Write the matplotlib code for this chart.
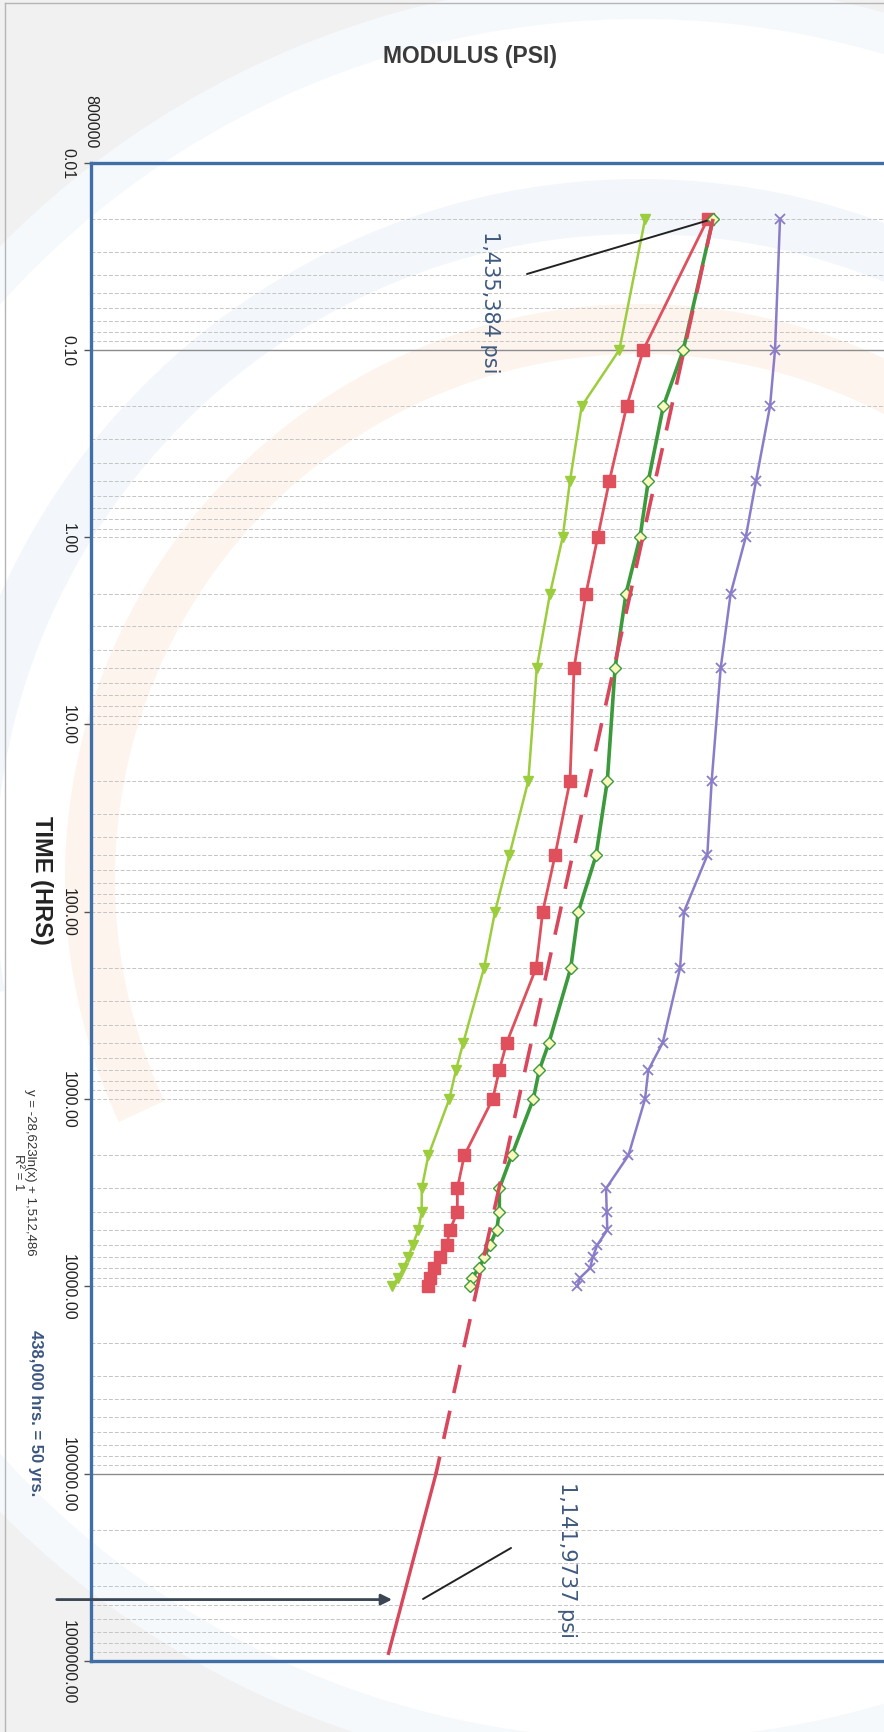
import matplotlib

matplotlib.use("Agg")
import matplotlib.pyplot as plt
from matplotlib.lines import Line2D
from matplotlib.patches import Wedge
from matplotlib.ticker import FixedLocator, NullLocator
from matplotlib.transforms import IdentityTransform

# time points (hrs) shared by all four test series
TIME_HRS = [0.02, 0.1, 0.2, 0.5, 1, 2, 5, 20, 50, 100, 200, 500, 700,
            1000, 2000, 3000, 4000, 5000, 6000, 7000, 8000, 9000, 10000]

# modulus readings (psi)
MOD_LIME = [1366000, 1339700, 1301200, 1289300, 1281800, 1268900, 1255300,
            1246700, 1227300, 1212700, 1201400, 1180300, 1172800, 1166000,
            1144600, 1137800, 1137800, 1134300, 1128600, 1124100, 1119000,
            1113900, 1107200]
MOD_RED = [1430000, 1364200, 1347200, 1329500, 1317600, 1305600, 1293400,
           1289300, 1274000, 1261400, 1254600, 1224600, 1217100, 1210300,
           1181300, 1174200, 1174200, 1166700, 1163300, 1156500, 1150400,
           1146300, 1144300]
MOD_GREEN = [1435384, 1405000, 1384600, 1369300, 1360800, 1346500, 1335300,
             1327400, 1315900, 1297800, 1290000, 1267800, 1257900, 1251800,
             1229700, 1217100, 1217100, 1214400, 1207600, 1201400, 1196600,
             1188900, 1187100]
MOD_PURPLE = [1503800, 1498700, 1493600, 1479300, 1468800, 1453400, 1443200,
              1434000, 1429500, 1405700, 1401700, 1384000, 1369300, 1365900,
              1348900, 1326100, 1326800, 1327400, 1317200, 1312500, 1309700,
              1299500, 1296800]

# log trend (dashed) and its extrapolation (solid)
TREND_TIME = [0.02, 100000]
TREND_MOD = [1435400, 1152400]
EXT_TIME = [100000, 910000]
EXT_MOD = [1152400, 1103900]

TARGET_HRS = 470000
TARGET_MOD = 1107500
ARROW_START_MOD = 765000

TIME_TICKS = [0.01, 0.1, 1, 10, 100, 1000, 10000, 100000, 1000000]
DARK_GRID = [0.1, 100000]
MOD_TICKS = [800000]

W, H = 884, 1733
fig = plt.figure(figsize=(W / 100, H / 100), dpi=100)
fig.patch.set_facecolor("#f1f1f1")


def fx(px):
    return px / W


def fy(py):
    return 1 - py / H


# faint logo watermark of the scanned page (pixel coords, y from bottom)
cx, cy = 640, H - 880
for r_out, width, col, th1, th2 in [(900, 900, "#f6f9fc", 0, 360),
                                    (860, 860, "#ffffff", 0, 360),
                                    (700, 55, "#f3f7fb", -10, 190),
                                    (575, 50, "#fdf4ee", -25, 205)]:
    fig.patches.append(Wedge((cx, cy), r_out, th1, th2, width=width,
                             transform=IdentityTransform(), facecolor=col,
                             edgecolor="none", zorder=-5))

# scanned page edges
fig.add_artist(Line2D([fx(5), fx(5)], [0, fy(4)], transform=fig.transFigure,
                      color="#b5b5b5", lw=1.0))
fig.add_artist(Line2D([fx(5), 1], [fy(4), fy(4)], transform=fig.transFigure,
                      color="#b5b5b5", lw=1.0))

ax_left, ax_right = 91, 1070
ax_top, ax_bot = 163.5, 1662
ax = fig.add_axes([fx(ax_left), fy(ax_bot), fx(ax_right - ax_left), (ax_bot - ax_top) / H])
ax.set_facecolor("none")

ax.set_yscale("log")
ax.set_ylim(1000000, 0.01)
ax.set_xlim(800000, 1800000)

grid_kw = dict(color="#c4c4c4", lw=0.7, ls=(0, (4, 2)), zorder=1)
for dec in TIME_TICKS[:-1]:
    for m in range(1, 10):
        t = dec * m
        if t in DARK_GRID:
            ax.axhline(t, color="#8c8c8c", lw=1.0, zorder=1)
        elif t > 0.01:
            ax.axhline(t, **grid_kw)

ax.plot(MOD_LIME, TIME_HRS, color="#9ccd3c", lw=1.8, marker="v", ms=7, zorder=3)
ax.plot(MOD_RED, TIME_HRS, color="#df4f5c", lw=2.0, marker="s", ms=8, zorder=3)
ax.plot(MOD_GREEN, TIME_HRS, color="#3b9a3b", lw=2.6, marker="D", ms=6.5,
        mfc="#fbf8bd", mec="#3b9a3b", mew=1.0, zorder=4)
ax.plot(MOD_PURPLE, TIME_HRS, color="#8a7cc9", lw=1.8, marker="x", ms=7, mew=1.3, zorder=3)
ax.plot(TREND_MOD, TREND_TIME, color="#d9475c", lw=2.6, ls=(0, (8, 5)), zorder=5)
ax.plot(EXT_MOD, EXT_TIME, color="#d9475c", lw=2.4, zorder=5)

for side in ["left", "top", "bottom"]:
    ax.spines[side].set_color("#3f6fa6")
    ax.spines[side].set_linewidth(2.4)
ax.spines["right"].set_visible(False)

ax.yaxis.set_major_locator(FixedLocator(TIME_TICKS))
ax.yaxis.set_minor_locator(NullLocator())
ax.set_yticklabels([f"{t:.2f}" for t in TIME_TICKS])
ax.tick_params(axis="y", length=5, width=1, color="#555555", pad=6,
               labelsize=11.5, labelcolor="#222222")
for lab in ax.get_yticklabels():
    lab.set_rotation(-90)
    lab.set_va("center")
    lab.set_family("Liberation Sans")

ax.xaxis.set_ticks_position("top")
ax.xaxis.set_major_locator(FixedLocator(MOD_TICKS))
ax.xaxis.set_minor_locator(NullLocator())
ax.set_xticklabels([f"{m:d}" for m in MOD_TICKS])
ax.tick_params(axis="x", length=0, pad=11, labelsize=11.5, labelcolor="#222222")
for lab in ax.get_xticklabels():
    lab.set_rotation(-90)
    lab.set_family("Liberation Sans")

fig.text(fx(470), fy(57), "MODULUS (PSI)", ha="center", va="center",
         fontsize=16.5, fontweight="bold", family="Liberation Sans", color="#3a3a3a")
fig.text(fx(41), fy(880), "TIME (HRS)", ha="center", va="center", rotation=-90,
         fontsize=17, fontweight="bold", family="Liberation Sans", color="#222222")
fig.text(fx(24), fy(1172), "y = -28,623ln(x) + 1,512,486\nR² = 1", ha="center", va="center",
         rotation=-90, multialignment="center", fontsize=9.5, family="Liberation Sans",
         color="#333333", linespacing=1.0)
fig.text(fx(35), fy(1413), "438,000 hrs. = 50 yrs.", ha="center", va="center", rotation=-90,
         fontsize=12, fontweight="bold", family="Liberation Sans", color="#3b5580")

# value call-outs with leader lines
fig.text(fx(490), fy(302), "1,435,384 psi", ha="center", va="center", rotation=-90,
         fontsize=15, family="DejaVu Sans", color="#3f5a7f")
fig.text(fx(567), fy(1560), "1,141,9737 psi", ha="center", va="center", rotation=-90,
         fontsize=15, family="DejaVu Sans", color="#3f5a7f")
ax.annotate("", xy=(MOD_GREEN[0], TIME_HRS[0]), xytext=(fx(527), fy(275)),
            textcoords="figure fraction",
            arrowprops=dict(arrowstyle="-", color="#222222", lw=1.4, shrinkA=0, shrinkB=4))
ax.annotate("", xy=(fx(511), fy(1549)), xycoords="figure fraction",
            xytext=(fx(423), fy(1600)), textcoords="figure fraction",
            arrowprops=dict(arrowstyle="-", color="#222222", lw=1.4, shrinkA=0, shrinkB=0))
ax.annotate("", xy=(TARGET_MOD, TARGET_HRS), xytext=(ARROW_START_MOD, TARGET_HRS),
            annotation_clip=False,
            arrowprops=dict(arrowstyle="-|>", color="#3a4654", lw=2.0,
                            mutation_scale=16, shrinkA=0, shrinkB=0))

fig.savefig("out.png", dpi=100, facecolor=fig.get_facecolor())
